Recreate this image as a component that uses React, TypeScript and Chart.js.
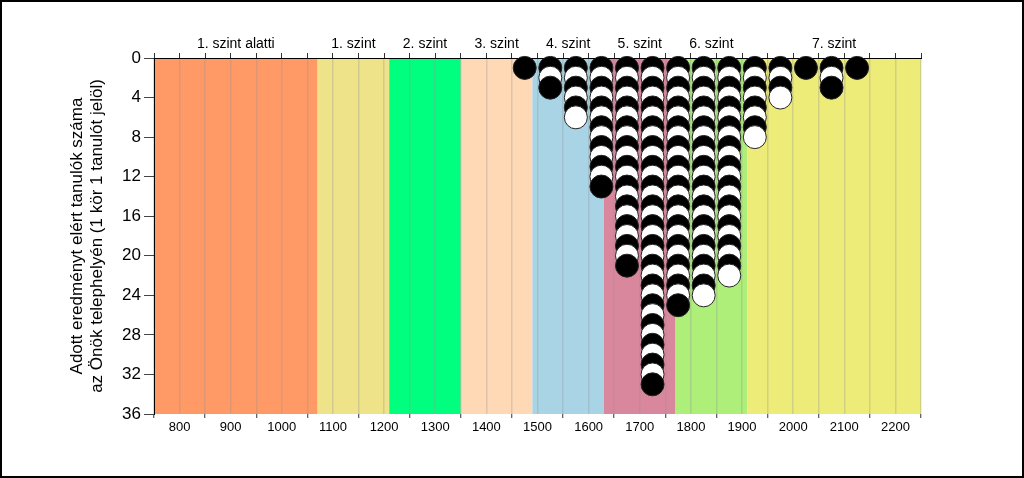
import { useEffect, useRef } from 'react';
import { Chart, registerables } from 'chart.js';

Chart.register(...registerables);

const levelNames = ['1. szint alatti', '1. szint', '2. szint', '3. szint', '4. szint', '5. szint', '6. szint', '7. szint'];
const levelBounds = [750, 1070, 1210, 1350, 1490, 1630, 1770, 1910, 2250];
const levelColors = ['#FF9966', '#EFE38A', '#00FF7F', '#FFD9B5', '#A8D4E5', '#D8879C', '#ADEF78', '#EEEC78'];
const scoreColumns = [1475, 1525, 1575, 1625, 1675, 1725, 1775, 1825, 1875, 1925, 1975, 2025, 2075, 2125];
const studentCounts = [1, 3, 6, 13, 21, 33, 25, 24, 22, 8, 4, 1, 3, 1];
const yTitle = ['Adott eredményt elért tanulók száma', 'az Önök telephelyén (1 kör 1 tanulót jelöl)'];
const xMin = 750;
const xMax = 2250;
const yMax = 36;

const FONT = 'Liberation Sans, Arial, sans-serif';

export default function App() {
  const ref = useRef<HTMLCanvasElement | null>(null);

  useEffect(() => {
    if (!ref.current) return;
    const points: { x: number; y: number }[] = [];
    const colors: string[] = [];
    scoreColumns.forEach((x, ci) => {
      for (let i = 1; i <= studentCounts[ci]; i++) {
        points.push({ x, y: i });
        colors.push(i % 2 === 1 ? '#000000' : '#FFFFFF');
      }
    });

    const bandPlugin = {
      id: 'bands',
      beforeDraw(chart: any) {
        const { ctx, chartArea } = chart;
        const xs = chart.scales.x;
        ctx.save();
        for (let i = 0; i < levelNames.length; i++) {
          const x0 = xs.getPixelForValue(levelBounds[i]);
          const x1 = xs.getPixelForValue(levelBounds[i + 1]);
          ctx.fillStyle = levelColors[i];
          ctx.fillRect(x0, chartArea.top, x1 - x0, chartArea.bottom - chartArea.top);
        }
        ctx.restore();
      },
      afterDraw(chart: any) {
        const { ctx } = chart;
        const xs = chart.scales.x;
        ctx.save();
        ctx.fillStyle = '#000';
        ctx.font = `14px ${FONT}`;
        ctx.textAlign = 'center';
        ctx.textBaseline = 'middle';
        for (let i = 0; i < levelNames.length; i++) {
          const c = (levelBounds[i] + levelBounds[i + 1]) / 2;
          ctx.fillText(levelNames[i], xs.getPixelForValue(c), 44);
        }
        ctx.strokeStyle = '#000';
        ctx.lineWidth = 2;
        ctx.strokeRect(1, 1, chart.width - 2, chart.height - 2);
        ctx.restore();
      },
    };

    const chart = new Chart(ref.current, {
      type: 'scatter',
      data: {
        datasets: [
          {
            data: points,
            pointRadius: 11.5,
            pointHoverRadius: 11.5,
            pointBackgroundColor: colors,
            pointBorderColor: '#222',
            pointBorderWidth: 1,
            clip: false,
            xAxisID: 'x',
            yAxisID: 'y',
          } as any,
        ],
      },
      options: {
        animation: false,
        responsive: false,
        events: [],
        layout: { padding: { left: 0, right: 103, top: 0, bottom: 0 } },
        plugins: { legend: { display: false }, tooltip: { enabled: false } },
        scales: {
          x: {
            type: 'linear',
            position: 'bottom',
            min: xMin,
            max: xMax,
            ticks: {
              stepSize: 50,
              autoSkip: false,
              maxRotation: 0,
              padding: 2,
              color: '#000',
              font: { family: FONT, size: 13 },
              callback: (v: any) => (Number(v) % 100 === 0 ? String(v) : ''),
            },
            grid: {
              color: 'rgba(150,150,150,0.32)',
              lineWidth: 1.5,
              tickLength: 4,
              tickWidth: 1,
              tickColor: (ctx: any) => (ctx.tick && ctx.tick.value % 100 === 0 ? 'rgba(0,0,0,0)' : '#333'),
            },
            border: { display: false },
            afterFit: (s: any) => {
              s.height = 64;
            },
          },
          xTop: {
            type: 'linear',
            position: 'top',
            min: xMin,
            max: xMax,
            ticks: { stepSize: 50, display: false, autoSkip: false },
            grid: { drawOnChartArea: false, tickLength: 5, color: '#333' },
            border: { display: true, color: '#000', width: 1 },
            afterFit: (s: any) => {
              s.height = 58;
            },
          },
          y: {
            type: 'linear',
            reverse: true,
            min: 0,
            max: yMax,
            ticks: { stepSize: 4, color: '#000', padding: 3, font: { family: FONT, size: 17 } },
            grid: { drawOnChartArea: false, tickLength: 10, color: '#444' },
            border: { display: true, color: '#000', width: 1 },
            title: {
              display: true,
              text: yTitle,
              color: '#000',
              font: { family: FONT, size: 17, lineHeight: 1.2 },
              padding: { top: 67, bottom: 0 },
            },
            afterFit: (s: any) => {
              s.width = 154;
            },
          },
        },
      } as any,
      plugins: [bandPlugin],
    });
    return () => chart.destroy();
  }, []);

  return (
    <div style={{ position: 'absolute', left: 0, top: 0, width: 1024, height: 478, background: '#fff' }}>
      <canvas ref={ref} width={1024} height={478} style={{ display: 'block' }} />
    </div>
  );
}
